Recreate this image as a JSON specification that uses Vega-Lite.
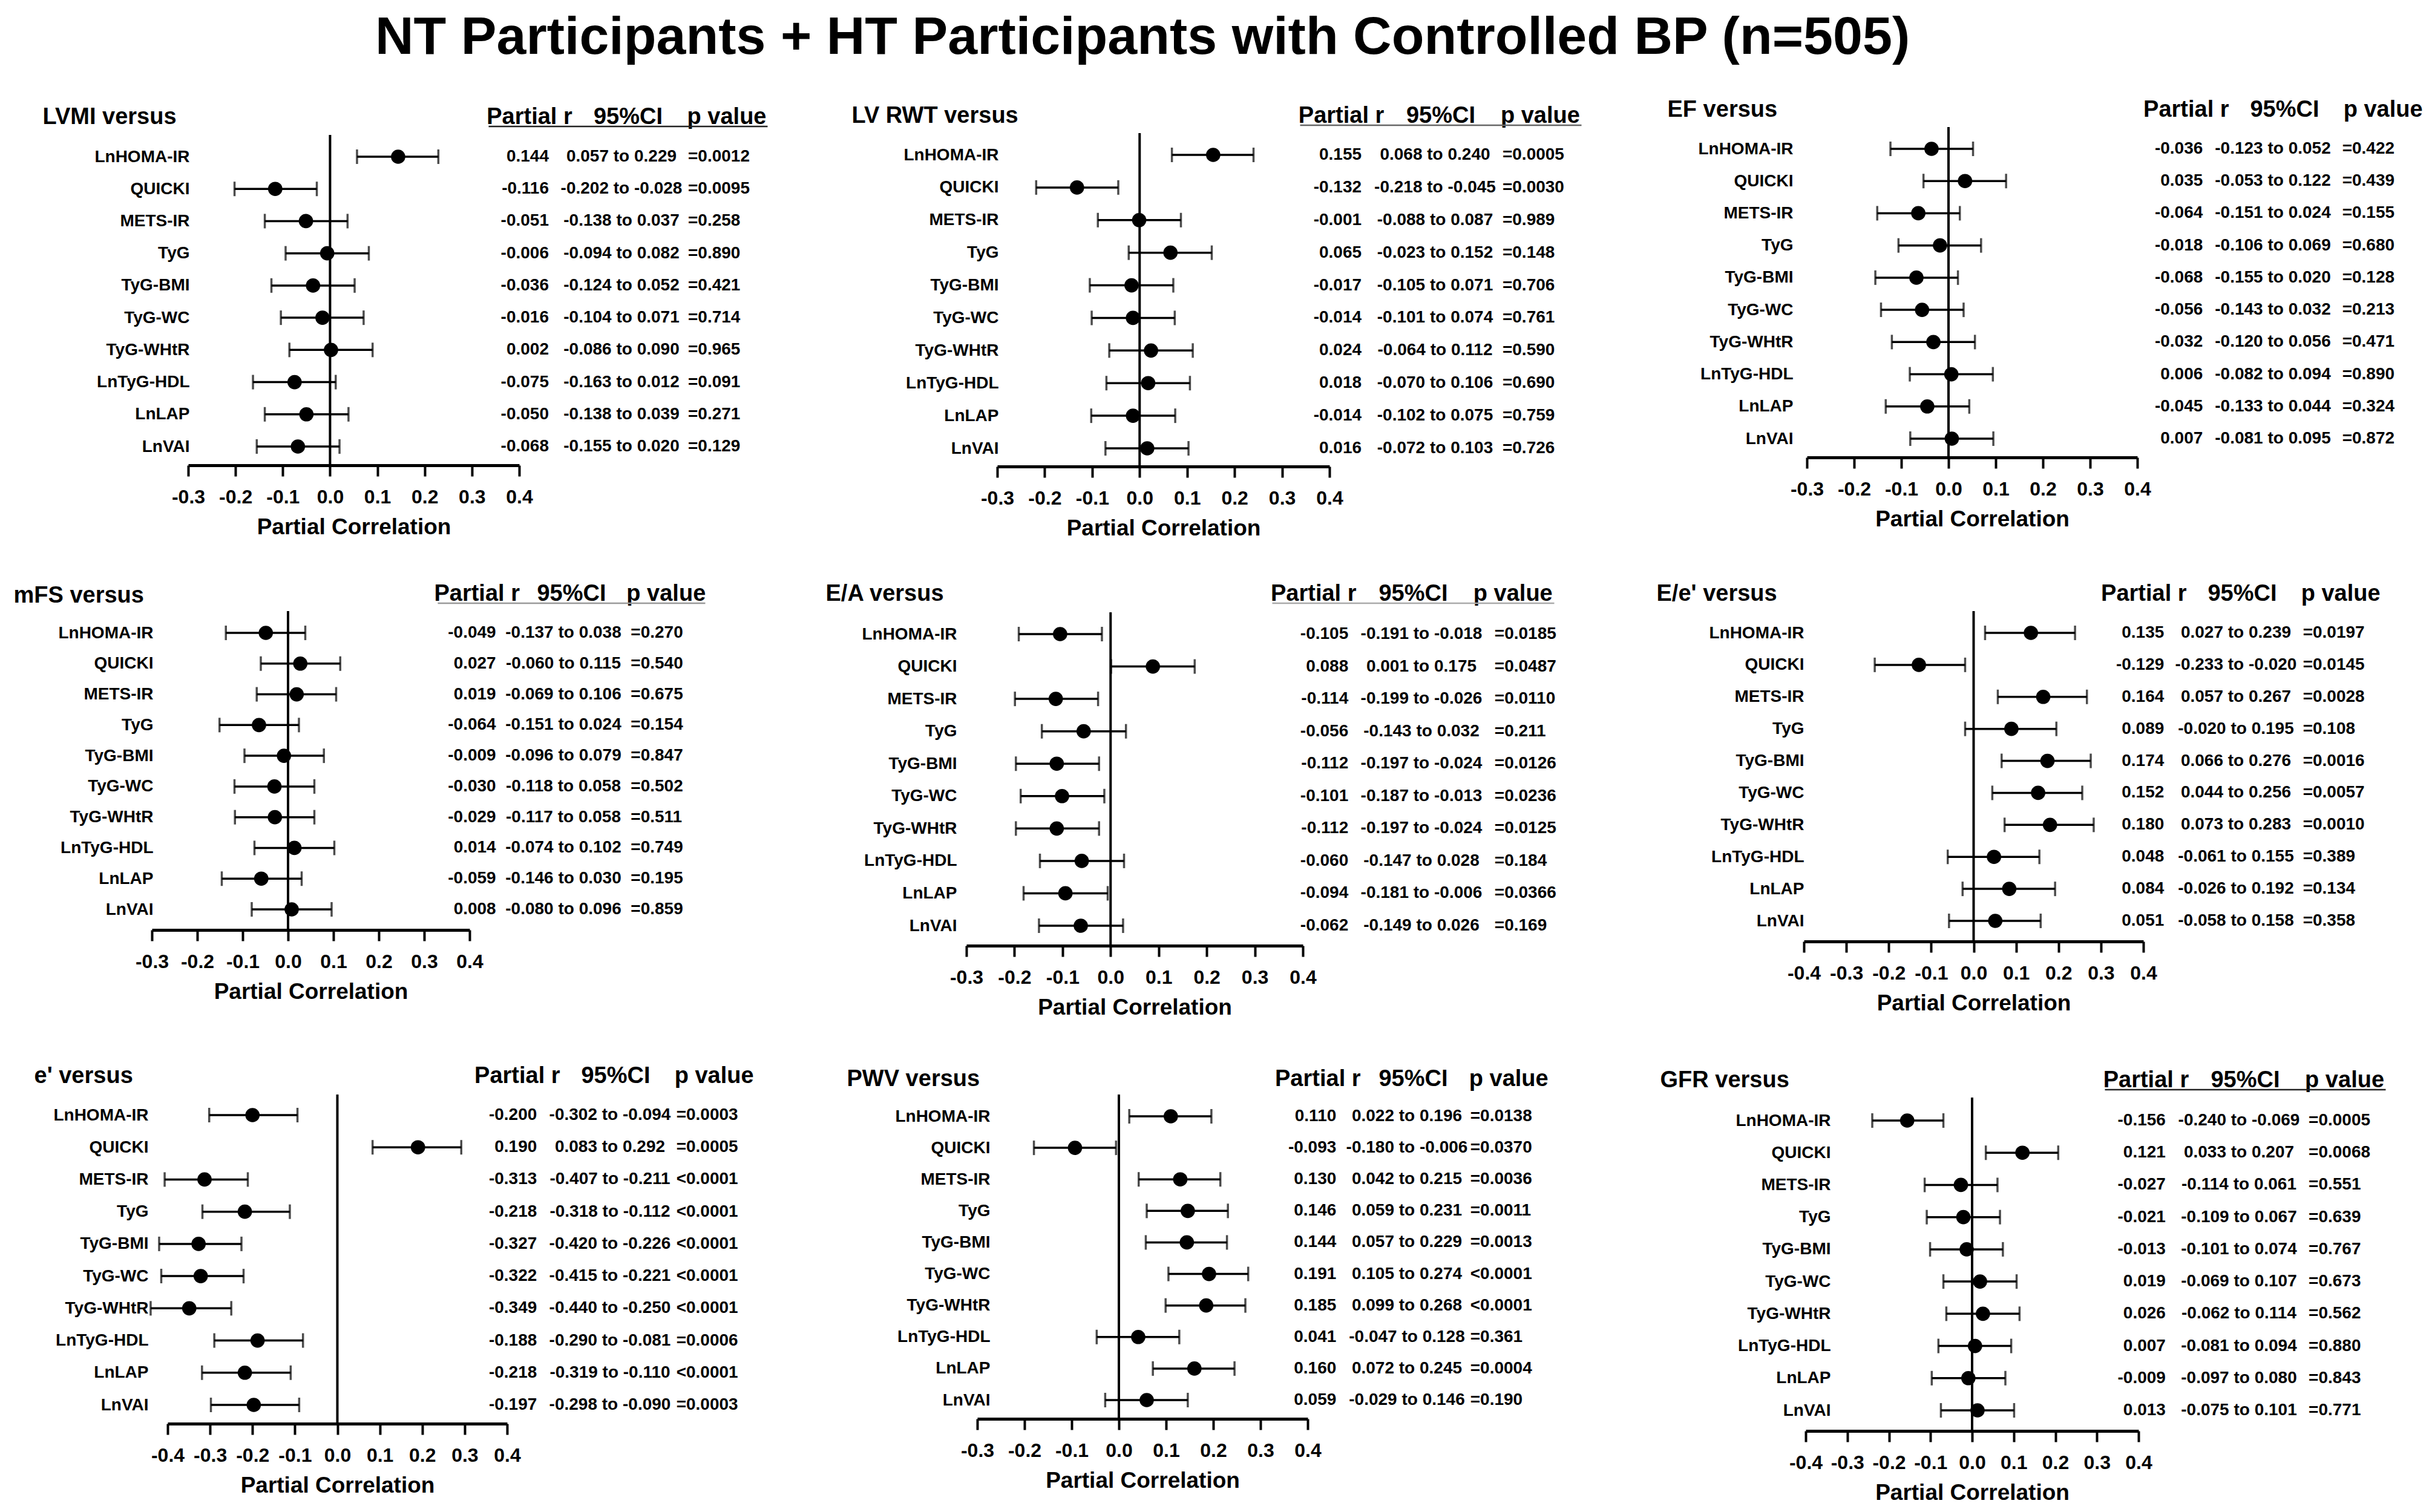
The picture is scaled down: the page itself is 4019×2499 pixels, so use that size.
{
"$schema": "https://vega.github.io/schema/vega-lite/v6.json",
"autosize": {"type": "pad"},
"padding": {"left": 22, "top": 18, "right": 0, "bottom": 0},
"background": "white",
"title": {"text": "NT Participants + HT Participants with Controlled BP (n=505)", "anchor": "start", "frame": "bounds", "dx": 598, "offset": 56, "fontSize": 88, "font": "Liberation Sans", "fontWeight": "bold", "color": "#000"},
"datasets": {"all": [
{"panel":"LVMI","label":"LnHOMA-IR","r":0.144,"lo":0.057,"hi":0.229,"rt":"0.144","ci":"0.057 to 0.229","p":"=0.0012"},
{"panel":"LVMI","label":"QUICKI","r":-0.116,"lo":-0.202,"hi":-0.028,"rt":"-0.116","ci":"-0.202 to -0.028","p":"=0.0095"},
{"panel":"LVMI","label":"METS-IR","r":-0.051,"lo":-0.138,"hi":0.037,"rt":"-0.051","ci":"-0.138 to 0.037","p":"=0.258"},
{"panel":"LVMI","label":"TyG","r":-0.006,"lo":-0.094,"hi":0.082,"rt":"-0.006","ci":"-0.094 to 0.082","p":"=0.890"},
{"panel":"LVMI","label":"TyG-BMI","r":-0.036,"lo":-0.124,"hi":0.052,"rt":"-0.036","ci":"-0.124 to 0.052","p":"=0.421"},
{"panel":"LVMI","label":"TyG-WC","r":-0.016,"lo":-0.104,"hi":0.071,"rt":"-0.016","ci":"-0.104 to 0.071","p":"=0.714"},
{"panel":"LVMI","label":"TyG-WHtR","r":0.002,"lo":-0.086,"hi":0.090,"rt":"0.002","ci":"-0.086 to 0.090","p":"=0.965"},
{"panel":"LVMI","label":"LnTyG-HDL","r":-0.075,"lo":-0.163,"hi":0.012,"rt":"-0.075","ci":"-0.163 to 0.012","p":"=0.091"},
{"panel":"LVMI","label":"LnLAP","r":-0.050,"lo":-0.138,"hi":0.039,"rt":"-0.050","ci":"-0.138 to 0.039","p":"=0.271"},
{"panel":"LVMI","label":"LnVAI","r":-0.068,"lo":-0.155,"hi":0.020,"rt":"-0.068","ci":"-0.155 to 0.020","p":"=0.129"},
{"panel":"LVRWT","label":"LnHOMA-IR","r":0.155,"lo":0.068,"hi":0.240,"rt":"0.155","ci":"0.068 to 0.240","p":"=0.0005"},
{"panel":"LVRWT","label":"QUICKI","r":-0.132,"lo":-0.218,"hi":-0.045,"rt":"-0.132","ci":"-0.218 to -0.045","p":"=0.0030"},
{"panel":"LVRWT","label":"METS-IR","r":-0.001,"lo":-0.088,"hi":0.087,"rt":"-0.001","ci":"-0.088 to 0.087","p":"=0.989"},
{"panel":"LVRWT","label":"TyG","r":0.065,"lo":-0.023,"hi":0.152,"rt":"0.065","ci":"-0.023 to 0.152","p":"=0.148"},
{"panel":"LVRWT","label":"TyG-BMI","r":-0.017,"lo":-0.105,"hi":0.071,"rt":"-0.017","ci":"-0.105 to 0.071","p":"=0.706"},
{"panel":"LVRWT","label":"TyG-WC","r":-0.014,"lo":-0.101,"hi":0.074,"rt":"-0.014","ci":"-0.101 to 0.074","p":"=0.761"},
{"panel":"LVRWT","label":"TyG-WHtR","r":0.024,"lo":-0.064,"hi":0.112,"rt":"0.024","ci":"-0.064 to 0.112","p":"=0.590"},
{"panel":"LVRWT","label":"LnTyG-HDL","r":0.018,"lo":-0.070,"hi":0.106,"rt":"0.018","ci":"-0.070 to 0.106","p":"=0.690"},
{"panel":"LVRWT","label":"LnLAP","r":-0.014,"lo":-0.102,"hi":0.075,"rt":"-0.014","ci":"-0.102 to 0.075","p":"=0.759"},
{"panel":"LVRWT","label":"LnVAI","r":0.016,"lo":-0.072,"hi":0.103,"rt":"0.016","ci":"-0.072 to 0.103","p":"=0.726"},
{"panel":"EF","label":"LnHOMA-IR","r":-0.036,"lo":-0.123,"hi":0.052,"rt":"-0.036","ci":"-0.123 to 0.052","p":"=0.422"},
{"panel":"EF","label":"QUICKI","r":0.035,"lo":-0.053,"hi":0.122,"rt":"0.035","ci":"-0.053 to 0.122","p":"=0.439"},
{"panel":"EF","label":"METS-IR","r":-0.064,"lo":-0.151,"hi":0.024,"rt":"-0.064","ci":"-0.151 to 0.024","p":"=0.155"},
{"panel":"EF","label":"TyG","r":-0.018,"lo":-0.106,"hi":0.069,"rt":"-0.018","ci":"-0.106 to 0.069","p":"=0.680"},
{"panel":"EF","label":"TyG-BMI","r":-0.068,"lo":-0.155,"hi":0.020,"rt":"-0.068","ci":"-0.155 to 0.020","p":"=0.128"},
{"panel":"EF","label":"TyG-WC","r":-0.056,"lo":-0.143,"hi":0.032,"rt":"-0.056","ci":"-0.143 to 0.032","p":"=0.213"},
{"panel":"EF","label":"TyG-WHtR","r":-0.032,"lo":-0.120,"hi":0.056,"rt":"-0.032","ci":"-0.120 to 0.056","p":"=0.471"},
{"panel":"EF","label":"LnTyG-HDL","r":0.006,"lo":-0.082,"hi":0.094,"rt":"0.006","ci":"-0.082 to 0.094","p":"=0.890"},
{"panel":"EF","label":"LnLAP","r":-0.045,"lo":-0.133,"hi":0.044,"rt":"-0.045","ci":"-0.133 to 0.044","p":"=0.324"},
{"panel":"EF","label":"LnVAI","r":0.007,"lo":-0.081,"hi":0.095,"rt":"0.007","ci":"-0.081 to 0.095","p":"=0.872"},
{"panel":"mFS","label":"LnHOMA-IR","r":-0.049,"lo":-0.137,"hi":0.038,"rt":"-0.049","ci":"-0.137 to 0.038","p":"=0.270"},
{"panel":"mFS","label":"QUICKI","r":0.027,"lo":-0.060,"hi":0.115,"rt":"0.027","ci":"-0.060 to 0.115","p":"=0.540"},
{"panel":"mFS","label":"METS-IR","r":0.019,"lo":-0.069,"hi":0.106,"rt":"0.019","ci":"-0.069 to 0.106","p":"=0.675"},
{"panel":"mFS","label":"TyG","r":-0.064,"lo":-0.151,"hi":0.024,"rt":"-0.064","ci":"-0.151 to 0.024","p":"=0.154"},
{"panel":"mFS","label":"TyG-BMI","r":-0.009,"lo":-0.096,"hi":0.079,"rt":"-0.009","ci":"-0.096 to 0.079","p":"=0.847"},
{"panel":"mFS","label":"TyG-WC","r":-0.030,"lo":-0.118,"hi":0.058,"rt":"-0.030","ci":"-0.118 to 0.058","p":"=0.502"},
{"panel":"mFS","label":"TyG-WHtR","r":-0.029,"lo":-0.117,"hi":0.058,"rt":"-0.029","ci":"-0.117 to 0.058","p":"=0.511"},
{"panel":"mFS","label":"LnTyG-HDL","r":0.014,"lo":-0.074,"hi":0.102,"rt":"0.014","ci":"-0.074 to 0.102","p":"=0.749"},
{"panel":"mFS","label":"LnLAP","r":-0.059,"lo":-0.146,"hi":0.030,"rt":"-0.059","ci":"-0.146 to 0.030","p":"=0.195"},
{"panel":"mFS","label":"LnVAI","r":0.008,"lo":-0.080,"hi":0.096,"rt":"0.008","ci":"-0.080 to 0.096","p":"=0.859"},
{"panel":"EA","label":"LnHOMA-IR","r":-0.105,"lo":-0.191,"hi":-0.018,"rt":"-0.105","ci":"-0.191 to -0.018","p":"=0.0185"},
{"panel":"EA","label":"QUICKI","r":0.088,"lo":0.001,"hi":0.175,"rt":"0.088","ci":"0.001 to 0.175","p":"=0.0487"},
{"panel":"EA","label":"METS-IR","r":-0.114,"lo":-0.199,"hi":-0.026,"rt":"-0.114","ci":"-0.199 to -0.026","p":"=0.0110"},
{"panel":"EA","label":"TyG","r":-0.056,"lo":-0.143,"hi":0.032,"rt":"-0.056","ci":"-0.143 to 0.032","p":"=0.211"},
{"panel":"EA","label":"TyG-BMI","r":-0.112,"lo":-0.197,"hi":-0.024,"rt":"-0.112","ci":"-0.197 to -0.024","p":"=0.0126"},
{"panel":"EA","label":"TyG-WC","r":-0.101,"lo":-0.187,"hi":-0.013,"rt":"-0.101","ci":"-0.187 to -0.013","p":"=0.0236"},
{"panel":"EA","label":"TyG-WHtR","r":-0.112,"lo":-0.197,"hi":-0.024,"rt":"-0.112","ci":"-0.197 to -0.024","p":"=0.0125"},
{"panel":"EA","label":"LnTyG-HDL","r":-0.060,"lo":-0.147,"hi":0.028,"rt":"-0.060","ci":"-0.147 to 0.028","p":"=0.184"},
{"panel":"EA","label":"LnLAP","r":-0.094,"lo":-0.181,"hi":-0.006,"rt":"-0.094","ci":"-0.181 to -0.006","p":"=0.0366"},
{"panel":"EA","label":"LnVAI","r":-0.062,"lo":-0.149,"hi":0.026,"rt":"-0.062","ci":"-0.149 to 0.026","p":"=0.169"},
{"panel":"Ee","label":"LnHOMA-IR","r":0.135,"lo":0.027,"hi":0.239,"rt":"0.135","ci":"0.027 to 0.239","p":"=0.0197"},
{"panel":"Ee","label":"QUICKI","r":-0.129,"lo":-0.233,"hi":-0.020,"rt":"-0.129","ci":"-0.233 to -0.020","p":"=0.0145"},
{"panel":"Ee","label":"METS-IR","r":0.164,"lo":0.057,"hi":0.267,"rt":"0.164","ci":"0.057 to 0.267","p":"=0.0028"},
{"panel":"Ee","label":"TyG","r":0.089,"lo":-0.020,"hi":0.195,"rt":"0.089","ci":"-0.020 to 0.195","p":"=0.108"},
{"panel":"Ee","label":"TyG-BMI","r":0.174,"lo":0.066,"hi":0.276,"rt":"0.174","ci":"0.066 to 0.276","p":"=0.0016"},
{"panel":"Ee","label":"TyG-WC","r":0.152,"lo":0.044,"hi":0.256,"rt":"0.152","ci":"0.044 to 0.256","p":"=0.0057"},
{"panel":"Ee","label":"TyG-WHtR","r":0.180,"lo":0.073,"hi":0.283,"rt":"0.180","ci":"0.073 to 0.283","p":"=0.0010"},
{"panel":"Ee","label":"LnTyG-HDL","r":0.048,"lo":-0.061,"hi":0.155,"rt":"0.048","ci":"-0.061 to 0.155","p":"=0.389"},
{"panel":"Ee","label":"LnLAP","r":0.084,"lo":-0.026,"hi":0.192,"rt":"0.084","ci":"-0.026 to 0.192","p":"=0.134"},
{"panel":"Ee","label":"LnVAI","r":0.051,"lo":-0.058,"hi":0.158,"rt":"0.051","ci":"-0.058 to 0.158","p":"=0.358"},
{"panel":"e","label":"LnHOMA-IR","r":-0.200,"lo":-0.302,"hi":-0.094,"rt":"-0.200","ci":"-0.302 to -0.094","p":"=0.0003"},
{"panel":"e","label":"QUICKI","r":0.190,"lo":0.083,"hi":0.292,"rt":"0.190","ci":"0.083 to 0.292","p":"=0.0005"},
{"panel":"e","label":"METS-IR","r":-0.313,"lo":-0.407,"hi":-0.211,"rt":"-0.313","ci":"-0.407 to -0.211","p":"<0.0001"},
{"panel":"e","label":"TyG","r":-0.218,"lo":-0.318,"hi":-0.112,"rt":"-0.218","ci":"-0.318 to -0.112","p":"<0.0001"},
{"panel":"e","label":"TyG-BMI","r":-0.327,"lo":-0.420,"hi":-0.226,"rt":"-0.327","ci":"-0.420 to -0.226","p":"<0.0001"},
{"panel":"e","label":"TyG-WC","r":-0.322,"lo":-0.415,"hi":-0.221,"rt":"-0.322","ci":"-0.415 to -0.221","p":"<0.0001"},
{"panel":"e","label":"TyG-WHtR","r":-0.349,"lo":-0.440,"hi":-0.250,"rt":"-0.349","ci":"-0.440 to -0.250","p":"<0.0001"},
{"panel":"e","label":"LnTyG-HDL","r":-0.188,"lo":-0.290,"hi":-0.081,"rt":"-0.188","ci":"-0.290 to -0.081","p":"=0.0006"},
{"panel":"e","label":"LnLAP","r":-0.218,"lo":-0.319,"hi":-0.110,"rt":"-0.218","ci":"-0.319 to -0.110","p":"<0.0001"},
{"panel":"e","label":"LnVAI","r":-0.197,"lo":-0.298,"hi":-0.090,"rt":"-0.197","ci":"-0.298 to -0.090","p":"=0.0003"},
{"panel":"PWV","label":"LnHOMA-IR","r":0.110,"lo":0.022,"hi":0.196,"rt":"0.110","ci":"0.022 to 0.196","p":"=0.0138"},
{"panel":"PWV","label":"QUICKI","r":-0.093,"lo":-0.180,"hi":-0.006,"rt":"-0.093","ci":"-0.180 to -0.006","p":"=0.0370"},
{"panel":"PWV","label":"METS-IR","r":0.130,"lo":0.042,"hi":0.215,"rt":"0.130","ci":"0.042 to 0.215","p":"=0.0036"},
{"panel":"PWV","label":"TyG","r":0.146,"lo":0.059,"hi":0.231,"rt":"0.146","ci":"0.059 to 0.231","p":"=0.0011"},
{"panel":"PWV","label":"TyG-BMI","r":0.144,"lo":0.057,"hi":0.229,"rt":"0.144","ci":"0.057 to 0.229","p":"=0.0013"},
{"panel":"PWV","label":"TyG-WC","r":0.191,"lo":0.105,"hi":0.274,"rt":"0.191","ci":"0.105 to 0.274","p":"<0.0001"},
{"panel":"PWV","label":"TyG-WHtR","r":0.185,"lo":0.099,"hi":0.268,"rt":"0.185","ci":"0.099 to 0.268","p":"<0.0001"},
{"panel":"PWV","label":"LnTyG-HDL","r":0.041,"lo":-0.047,"hi":0.128,"rt":"0.041","ci":"-0.047 to 0.128","p":"=0.361"},
{"panel":"PWV","label":"LnLAP","r":0.160,"lo":0.072,"hi":0.245,"rt":"0.160","ci":"0.072 to 0.245","p":"=0.0004"},
{"panel":"PWV","label":"LnVAI","r":0.059,"lo":-0.029,"hi":0.146,"rt":"0.059","ci":"-0.029 to 0.146","p":"=0.190"},
{"panel":"GFR","label":"LnHOMA-IR","r":-0.156,"lo":-0.240,"hi":-0.069,"rt":"-0.156","ci":"-0.240 to -0.069","p":"=0.0005"},
{"panel":"GFR","label":"QUICKI","r":0.121,"lo":0.033,"hi":0.207,"rt":"0.121","ci":"0.033 to 0.207","p":"=0.0068"},
{"panel":"GFR","label":"METS-IR","r":-0.027,"lo":-0.114,"hi":0.061,"rt":"-0.027","ci":"-0.114 to 0.061","p":"=0.551"},
{"panel":"GFR","label":"TyG","r":-0.021,"lo":-0.109,"hi":0.067,"rt":"-0.021","ci":"-0.109 to 0.067","p":"=0.639"},
{"panel":"GFR","label":"TyG-BMI","r":-0.013,"lo":-0.101,"hi":0.074,"rt":"-0.013","ci":"-0.101 to 0.074","p":"=0.767"},
{"panel":"GFR","label":"TyG-WC","r":0.019,"lo":-0.069,"hi":0.107,"rt":"0.019","ci":"-0.069 to 0.107","p":"=0.673"},
{"panel":"GFR","label":"TyG-WHtR","r":0.026,"lo":-0.062,"hi":0.114,"rt":"0.026","ci":"-0.062 to 0.114","p":"=0.562"},
{"panel":"GFR","label":"LnTyG-HDL","r":0.007,"lo":-0.081,"hi":0.094,"rt":"0.007","ci":"-0.081 to 0.094","p":"=0.880"},
{"panel":"GFR","label":"LnLAP","r":-0.009,"lo":-0.097,"hi":0.080,"rt":"-0.009","ci":"-0.097 to 0.080","p":"=0.843"},
{"panel":"GFR","label":"LnVAI","r":0.013,"lo":-0.075,"hi":0.101,"rt":"0.013","ci":"-0.075 to 0.101","p":"=0.771"}
]},
"columns": 3,
"bounds": "flush",
"spacing": {"row": 239, "column": 40},
"resolve": {"scale": {"x": "independent", "y": "independent"}},
"concat": [
{"width": 1306, "height": 559, "data": {"name": "all"}, "transform": [{"filter": {"field": "panel", "equal": "LVMI"}}],
 "encoding": {"y": {"field": "label", "type": "nominal", "sort": null, "scale": {"type": "point", "domain": ["LnHOMA-IR","QUICKI","METS-IR","TyG","TyG-BMI","TyG-WC","TyG-WHtR","LnTyG-HDL","LnLAP","LnVAI"], "range": [49, 528], "padding": 0}, "axis": {"title": "LVMI versus", "labelPadding": -2, "offset": -60, "titleX": -241, "titleY": -5.4}}},
 "layer": [
  {"layer": [
   {"transform": [{"aggregate": [{"op": "count", "as": "n"}]}], "mark": {"type": "rule", "color": "#000", "strokeWidth": 4, "yOffset": -36, "y2Offset": 31}, "encoding": {"x": {"datum": 0, "type": "quantitative"}, "y": {"datum": "LnHOMA-IR", "type": "nominal"}, "y2": {"datum": "LnVAI"}}},
   {"mark": {"type": "rule", "color": "#000", "strokeWidth": 3.5}, "encoding": {"x": {"field": "lo", "type": "quantitative", "scale": {"domain": [-0.3, 0.4], "range": [60, 607], "nice": false, "zero": false}, "axis": {"orient": "bottom", "values": [-0.3, -0.2, -0.1, 0, 0.1, 0.2, 0.3, 0.4], "format": ".1f", "labelExpr": "replace(datum.label, '\u2212', '-')", "title": "Partial Correlation", "titleY": 113}}, "x2": {"field": "hi"}}},
   {"mark": {"type": "tick", "color": "#000", "size": 24, "thickness": 3.5}, "encoding": {"x": {"field": "lo", "type": "quantitative", "scale": {"domain": [-0.3, 0.4], "range": [60, 607], "nice": false, "zero": false}, "axis": {"orient": "bottom", "values": [-0.3, -0.2, -0.1, 0, 0.1, 0.2, 0.3, 0.4], "format": ".1f", "labelExpr": "replace(datum.label, '\u2212', '-')", "title": "Partial Correlation", "titleY": 113}}}},
   {"mark": {"type": "tick", "color": "#000", "size": 24, "thickness": 3.5}, "encoding": {"x": {"field": "hi", "type": "quantitative", "scale": {"domain": [-0.3, 0.4], "range": [60, 607], "nice": false, "zero": false}, "axis": {"orient": "bottom", "values": [-0.3, -0.2, -0.1, 0, 0.1, 0.2, 0.3, 0.4], "format": ".1f", "labelExpr": "replace(datum.label, '\u2212', '-')", "title": "Partial Correlation", "titleY": 113}}}},
   {"mark": {"type": "point", "filled": true, "color": "#000", "opacity": 1, "size": 560}, "encoding": {"x": {"field": "r", "type": "quantitative", "scale": {"domain": [-0.3, 0.4], "range": [60, 607], "nice": false, "zero": false}, "axis": {"orient": "bottom", "values": [-0.3, -0.2, -0.1, 0, 0.1, 0.2, 0.3, 0.4], "format": ".1f", "labelExpr": "replace(datum.label, '\u2212', '-')", "title": "Partial Correlation", "titleY": 113}}}}
  ]},
  {"layer": [
   {"mark": {"type": "text", "align": "right", "dx": 32.5}, "encoding": {"text": {"field": "rt"}, "x": {"datum": "Partial r", "type": "nominal", "scale": {"type": "point", "domain": ["Partial r", "95%CI", "p value"], "range": [556, 1017], "padding": 0.414}, "axis": {"orient": "top", "title": null, "offset": 1.4, "domain": true, "domainColor": "#222"}}}},
   {"mark": {"type": "text", "align": "center", "dx": -10.5}, "encoding": {"text": {"field": "ci"}, "x": {"datum": "95%CI", "type": "nominal", "scale": {"type": "point", "domain": ["Partial r", "95%CI", "p value"], "range": [556, 1017], "padding": 0.414}, "axis": {"orient": "top", "title": null, "offset": 1.4, "domain": true, "domainColor": "#222"}}}},
   {"mark": {"type": "text", "align": "left", "dx": -63.5}, "encoding": {"text": {"field": "p"}, "x": {"datum": "p value", "type": "nominal", "scale": {"type": "point", "domain": ["Partial r", "95%CI", "p value"], "range": [556, 1017], "padding": 0.414}, "axis": {"orient": "top", "title": null, "offset": 1.4, "domain": true, "domainColor": "#222"}}}}
  ]}
 ],
 "resolve": {"scale": {"x": "independent"}}},

{"width": 1344, "height": 561, "data": {"name": "all"}, "transform": [{"filter": {"field": "panel", "equal": "LVRWT"}}],
 "encoding": {"y": {"field": "label", "type": "nominal", "sort": null, "scale": {"type": "point", "domain": ["LnHOMA-IR","QUICKI","METS-IR","TyG","TyG-BMI","TyG-WC","TyG-WHtR","LnTyG-HDL","LnLAP","LnVAI"], "range": [46, 531], "padding": 0}, "axis": {"title": "LV RWT versus", "labelPadding": -2, "offset": -51, "titleX": -241, "titleY": -7.4}}},
 "layer": [
  {"layer": [
   {"transform": [{"aggregate": [{"op": "count", "as": "n"}]}], "mark": {"type": "rule", "color": "#000", "strokeWidth": 4, "yOffset": -36, "y2Offset": 30}, "encoding": {"x": {"datum": 0, "type": "quantitative"}, "y": {"datum": "LnHOMA-IR", "type": "nominal"}, "y2": {"datum": "LnVAI"}}},
   {"mark": {"type": "rule", "color": "#000", "strokeWidth": 3.5}, "encoding": {"x": {"field": "lo", "type": "quantitative", "scale": {"domain": [-0.3, 0.4], "range": [51, 600], "nice": false, "zero": false}, "axis": {"orient": "bottom", "values": [-0.3, -0.2, -0.1, 0, 0.1, 0.2, 0.3, 0.4], "format": ".1f", "labelExpr": "replace(datum.label, '\u2212', '-')", "title": "Partial Correlation", "titleY": 113}}, "x2": {"field": "hi"}}},
   {"mark": {"type": "tick", "color": "#000", "size": 24, "thickness": 3.5}, "encoding": {"x": {"field": "lo", "type": "quantitative", "scale": {"domain": [-0.3, 0.4], "range": [51, 600], "nice": false, "zero": false}, "axis": {"orient": "bottom", "values": [-0.3, -0.2, -0.1, 0, 0.1, 0.2, 0.3, 0.4], "format": ".1f", "labelExpr": "replace(datum.label, '\u2212', '-')", "title": "Partial Correlation", "titleY": 113}}}},
   {"mark": {"type": "tick", "color": "#000", "size": 24, "thickness": 3.5}, "encoding": {"x": {"field": "hi", "type": "quantitative", "scale": {"domain": [-0.3, 0.4], "range": [51, 600], "nice": false, "zero": false}, "axis": {"orient": "bottom", "values": [-0.3, -0.2, -0.1, 0, 0.1, 0.2, 0.3, 0.4], "format": ".1f", "labelExpr": "replace(datum.label, '\u2212', '-')", "title": "Partial Correlation", "titleY": 113}}}},
   {"mark": {"type": "point", "filled": true, "color": "#000", "opacity": 1, "size": 560}, "encoding": {"x": {"field": "r", "type": "quantitative", "scale": {"domain": [-0.3, 0.4], "range": [51, 600], "nice": false, "zero": false}, "axis": {"orient": "bottom", "values": [-0.3, -0.2, -0.1, 0, 0.1, 0.2, 0.3, 0.4], "format": ".1f", "labelExpr": "replace(datum.label, '\u2212', '-')", "title": "Partial Correlation", "titleY": 113}}}}
  ]},
  {"layer": [
   {"mark": {"type": "text", "align": "right", "dx": 34}, "encoding": {"text": {"field": "rt"}, "x": {"datum": "Partial r", "type": "nominal", "scale": {"type": "point", "domain": ["Partial r", "95%CI", "p value"], "range": [551, 1016], "padding": 0.414}, "axis": {"orient": "top", "title": null, "offset": 3.4, "domain": true, "domainColor": "#666"}}}},
   {"mark": {"type": "text", "align": "center", "dx": -9}, "encoding": {"text": {"field": "ci"}, "x": {"datum": "95%CI", "type": "nominal", "scale": {"type": "point", "domain": ["Partial r", "95%CI", "p value"], "range": [551, 1016], "padding": 0.414}, "axis": {"orient": "top", "title": null, "offset": 3.4, "domain": true, "domainColor": "#666"}}}},
   {"mark": {"type": "text", "align": "left", "dx": -62}, "encoding": {"text": {"field": "p"}, "x": {"datum": "p value", "type": "nominal", "scale": {"type": "point", "domain": ["Partial r", "95%CI", "p value"], "range": [551, 1016], "padding": 0.414}, "axis": {"orient": "top", "title": null, "offset": 3.4, "domain": true, "domainColor": "#666"}}}}
  ]}
 ],
 "resolve": {"scale": {"x": "independent"}}},

{"width": 1030, "height": 546, "data": {"name": "all"}, "transform": [{"filter": {"field": "panel", "equal": "EF"}}],
 "encoding": {"y": {"field": "label", "type": "nominal", "sort": null, "scale": {"type": "point", "domain": ["LnHOMA-IR","QUICKI","METS-IR","TyG","TyG-BMI","TyG-WC","TyG-WHtR","LnTyG-HDL","LnLAP","LnVAI"], "range": [36, 515], "padding": 0}, "axis": {"title": "EF versus", "labelPadding": 23, "offset": -5, "titleX": -231, "titleY": -17.4}}},
 "layer": [
  {"layer": [
   {"transform": [{"aggregate": [{"op": "count", "as": "n"}]}], "mark": {"type": "rule", "color": "#000", "strokeWidth": 4, "yOffset": -36, "y2Offset": 31}, "encoding": {"x": {"datum": 0, "type": "quantitative"}, "y": {"datum": "LnHOMA-IR", "type": "nominal"}, "y2": {"datum": "LnVAI"}}},
   {"mark": {"type": "rule", "color": "#000", "strokeWidth": 3.5}, "encoding": {"x": {"field": "lo", "type": "quantitative", "scale": {"domain": [-0.3, 0.4], "range": [5, 551], "nice": false, "zero": false}, "axis": {"orient": "bottom", "values": [-0.3, -0.2, -0.1, 0, 0.1, 0.2, 0.3, 0.4], "format": ".1f", "labelExpr": "replace(datum.label, '\u2212', '-')", "title": "Partial Correlation", "titleY": 113}}, "x2": {"field": "hi"}}},
   {"mark": {"type": "tick", "color": "#000", "size": 24, "thickness": 3.5}, "encoding": {"x": {"field": "lo", "type": "quantitative", "scale": {"domain": [-0.3, 0.4], "range": [5, 551], "nice": false, "zero": false}, "axis": {"orient": "bottom", "values": [-0.3, -0.2, -0.1, 0, 0.1, 0.2, 0.3, 0.4], "format": ".1f", "labelExpr": "replace(datum.label, '\u2212', '-')", "title": "Partial Correlation", "titleY": 113}}}},
   {"mark": {"type": "tick", "color": "#000", "size": 24, "thickness": 3.5}, "encoding": {"x": {"field": "hi", "type": "quantitative", "scale": {"domain": [-0.3, 0.4], "range": [5, 551], "nice": false, "zero": false}, "axis": {"orient": "bottom", "values": [-0.3, -0.2, -0.1, 0, 0.1, 0.2, 0.3, 0.4], "format": ".1f", "labelExpr": "replace(datum.label, '\u2212', '-')", "title": "Partial Correlation", "titleY": 113}}}},
   {"mark": {"type": "point", "filled": true, "color": "#000", "opacity": 1, "size": 560}, "encoding": {"x": {"field": "r", "type": "quantitative", "scale": {"domain": [-0.3, 0.4], "range": [5, 551], "nice": false, "zero": false}, "axis": {"orient": "bottom", "values": [-0.3, -0.2, -0.1, 0, 0.1, 0.2, 0.3, 0.4], "format": ".1f", "labelExpr": "replace(datum.label, '\u2212', '-')", "title": "Partial Correlation", "titleY": 113}}}}
  ]},
  {"layer": [
   {"mark": {"type": "text", "align": "right", "dx": 28}, "encoding": {"text": {"field": "rt"}, "x": {"datum": "Partial r", "type": "nominal", "scale": {"type": "point", "domain": ["Partial r", "95%CI", "p value"], "range": [564, 1024], "padding": 0.414}, "axis": {"orient": "top", "title": null, "offset": 13.4, "domain": false}}}},
   {"mark": {"type": "text", "align": "center", "dx": -19}, "encoding": {"text": {"field": "ci"}, "x": {"datum": "95%CI", "type": "nominal", "scale": {"type": "point", "domain": ["Partial r", "95%CI", "p value"], "range": [564, 1024], "padding": 0.414}, "axis": {"orient": "top", "title": null, "offset": 13.4, "domain": false}}}},
   {"mark": {"type": "text", "align": "left", "dx": -67}, "encoding": {"text": {"field": "p"}, "x": {"datum": "p value", "type": "nominal", "scale": {"type": "point", "domain": ["Partial r", "95%CI", "p value"], "range": [564, 1024], "padding": 0.414}, "axis": {"orient": "top", "title": null, "offset": 13.4, "domain": false}}}}
  ]}
 ],
 "resolve": {"scale": {"x": "independent"}}},

{"width": 1306, "height": 527, "data": {"name": "all"}, "transform": [{"filter": {"field": "panel", "equal": "mFS"}}],
 "encoding": {"y": {"field": "label", "type": "nominal", "sort": null, "scale": {"type": "point", "domain": ["LnHOMA-IR","QUICKI","METS-IR","TyG","TyG-BMI","TyG-WC","TyG-WHtR","LnTyG-HDL","LnLAP","LnVAI"], "range": [36, 493], "padding": 0}, "axis": {"title": "mFS versus", "labelPadding": -2, "offset": 0, "titleX": -229, "titleY": -14.4}}},
 "layer": [
  {"layer": [
   {"transform": [{"aggregate": [{"op": "count", "as": "n"}]}], "mark": {"type": "rule", "color": "#000", "strokeWidth": 4, "yOffset": -36, "y2Offset": 34}, "encoding": {"x": {"datum": 0, "type": "quantitative"}, "y": {"datum": "LnHOMA-IR", "type": "nominal"}, "y2": {"datum": "LnVAI"}}},
   {"mark": {"type": "rule", "color": "#000", "strokeWidth": 3.5}, "encoding": {"x": {"field": "lo", "type": "quantitative", "scale": {"domain": [-0.3, 0.4], "range": [0, 525], "nice": false, "zero": false}, "axis": {"orient": "bottom", "values": [-0.3, -0.2, -0.1, 0, 0.1, 0.2, 0.3, 0.4], "format": ".1f", "labelExpr": "replace(datum.label, '\u2212', '-')", "title": "Partial Correlation", "titleY": 113}}, "x2": {"field": "hi"}}},
   {"mark": {"type": "tick", "color": "#000", "size": 24, "thickness": 3.5}, "encoding": {"x": {"field": "lo", "type": "quantitative", "scale": {"domain": [-0.3, 0.4], "range": [0, 525], "nice": false, "zero": false}, "axis": {"orient": "bottom", "values": [-0.3, -0.2, -0.1, 0, 0.1, 0.2, 0.3, 0.4], "format": ".1f", "labelExpr": "replace(datum.label, '\u2212', '-')", "title": "Partial Correlation", "titleY": 113}}}},
   {"mark": {"type": "tick", "color": "#000", "size": 24, "thickness": 3.5}, "encoding": {"x": {"field": "hi", "type": "quantitative", "scale": {"domain": [-0.3, 0.4], "range": [0, 525], "nice": false, "zero": false}, "axis": {"orient": "bottom", "values": [-0.3, -0.2, -0.1, 0, 0.1, 0.2, 0.3, 0.4], "format": ".1f", "labelExpr": "replace(datum.label, '\u2212', '-')", "title": "Partial Correlation", "titleY": 113}}}},
   {"mark": {"type": "point", "filled": true, "color": "#000", "opacity": 1, "size": 560}, "encoding": {"x": {"field": "r", "type": "quantitative", "scale": {"domain": [-0.3, 0.4], "range": [0, 525], "nice": false, "zero": false}, "axis": {"orient": "bottom", "values": [-0.3, -0.2, -0.1, 0, 0.1, 0.2, 0.3, 0.4], "format": ".1f", "labelExpr": "replace(datum.label, '\u2212', '-')", "title": "Partial Correlation", "titleY": 113}}}}
  ]},
  {"layer": [
   {"mark": {"type": "text", "align": "right", "dx": 32}, "encoding": {"text": {"field": "rt"}, "x": {"datum": "Partial r", "type": "nominal", "scale": {"type": "point", "domain": ["Partial r", "95%CI", "p value"], "range": [472, 914], "padding": 0.414}, "axis": {"orient": "top", "title": null, "offset": 13.4, "domain": true, "domainColor": "#999"}}}},
   {"mark": {"type": "text", "align": "center", "dx": -13}, "encoding": {"text": {"field": "ci"}, "x": {"datum": "95%CI", "type": "nominal", "scale": {"type": "point", "domain": ["Partial r", "95%CI", "p value"], "range": [472, 914], "padding": 0.414}, "axis": {"orient": "top", "title": null, "offset": 13.4, "domain": true, "domainColor": "#999"}}}},
   {"mark": {"type": "text", "align": "left", "dx": -58}, "encoding": {"text": {"field": "p"}, "x": {"datum": "p value", "type": "nominal", "scale": {"type": "point", "domain": ["Partial r", "95%CI", "p value"], "range": [472, 914], "padding": 0.414}, "axis": {"orient": "top", "title": null, "offset": 13.4, "domain": true, "domainColor": "#999"}}}}
  ]}
 ],
 "resolve": {"scale": {"x": "independent"}}},

{"width": 1344, "height": 553, "data": {"name": "all"}, "transform": [{"filter": {"field": "panel", "equal": "EA"}}],
 "encoding": {"y": {"field": "label", "type": "nominal", "sort": null, "scale": {"type": "point", "domain": ["LnHOMA-IR","QUICKI","METS-IR","TyG","TyG-BMI","TyG-WC","TyG-WHtR","LnTyG-HDL","LnLAP","LnVAI"], "range": [38, 520], "padding": 0}, "axis": {"title": "E/A versus", "labelPadding": 16, "offset": 0, "titleX": -233, "titleY": -17.4}}},
 "layer": [
  {"layer": [
   {"transform": [{"aggregate": [{"op": "count", "as": "n"}]}], "mark": {"type": "rule", "color": "#000", "strokeWidth": 4, "yOffset": -36, "y2Offset": 33}, "encoding": {"x": {"datum": 0, "type": "quantitative"}, "y": {"datum": "LnHOMA-IR", "type": "nominal"}, "y2": {"datum": "LnVAI"}}},
   {"mark": {"type": "rule", "color": "#000", "strokeWidth": 3.5}, "encoding": {"x": {"field": "lo", "type": "quantitative", "scale": {"domain": [-0.3, 0.4], "range": [0, 556], "nice": false, "zero": false}, "axis": {"orient": "bottom", "values": [-0.3, -0.2, -0.1, 0, 0.1, 0.2, 0.3, 0.4], "format": ".1f", "labelExpr": "replace(datum.label, '\u2212', '-')", "title": "Partial Correlation", "titleY": 113}}, "x2": {"field": "hi"}}},
   {"mark": {"type": "tick", "color": "#000", "size": 24, "thickness": 3.5}, "encoding": {"x": {"field": "lo", "type": "quantitative", "scale": {"domain": [-0.3, 0.4], "range": [0, 556], "nice": false, "zero": false}, "axis": {"orient": "bottom", "values": [-0.3, -0.2, -0.1, 0, 0.1, 0.2, 0.3, 0.4], "format": ".1f", "labelExpr": "replace(datum.label, '\u2212', '-')", "title": "Partial Correlation", "titleY": 113}}}},
   {"mark": {"type": "tick", "color": "#000", "size": 24, "thickness": 3.5}, "encoding": {"x": {"field": "hi", "type": "quantitative", "scale": {"domain": [-0.3, 0.4], "range": [0, 556], "nice": false, "zero": false}, "axis": {"orient": "bottom", "values": [-0.3, -0.2, -0.1, 0, 0.1, 0.2, 0.3, 0.4], "format": ".1f", "labelExpr": "replace(datum.label, '\u2212', '-')", "title": "Partial Correlation", "titleY": 113}}}},
   {"mark": {"type": "point", "filled": true, "color": "#000", "opacity": 1, "size": 560}, "encoding": {"x": {"field": "r", "type": "quantitative", "scale": {"domain": [-0.3, 0.4], "range": [0, 556], "nice": false, "zero": false}, "axis": {"orient": "bottom", "values": [-0.3, -0.2, -0.1, 0, 0.1, 0.2, 0.3, 0.4], "format": ".1f", "labelExpr": "replace(datum.label, '\u2212', '-')", "title": "Partial Correlation", "titleY": 113}}}}
  ]},
  {"layer": [
   {"mark": {"type": "text", "align": "right", "dx": 58}, "encoding": {"text": {"field": "rt"}, "x": {"datum": "Partial r", "type": "nominal", "scale": {"type": "point", "domain": ["Partial r", "95%CI", "p value"], "range": [505, 971], "padding": 0.414}, "axis": {"orient": "top", "title": null, "offset": 13.4, "domain": true, "domainColor": "#aaa"}}}},
   {"mark": {"type": "text", "align": "center", "dx": 14}, "encoding": {"text": {"field": "ci"}, "x": {"datum": "95%CI", "type": "nominal", "scale": {"type": "point", "domain": ["Partial r", "95%CI", "p value"], "range": [505, 971], "padding": 0.414}, "axis": {"orient": "top", "title": null, "offset": 13.4, "domain": true, "domainColor": "#aaa"}}}},
   {"mark": {"type": "text", "align": "left", "dx": -30}, "encoding": {"text": {"field": "p"}, "x": {"datum": "p value", "type": "nominal", "scale": {"type": "point", "domain": ["Partial r", "95%CI", "p value"], "range": [505, 971], "padding": 0.414}, "axis": {"orient": "top", "title": null, "offset": 13.4, "domain": true, "domainColor": "#aaa"}}}}
  ]}
 ],
 "resolve": {"scale": {"x": "independent"}}},

{"width": 1030, "height": 546, "data": {"name": "all"}, "transform": [{"filter": {"field": "panel", "equal": "Ee"}}],
 "encoding": {"y": {"field": "label", "type": "nominal", "sort": null, "scale": {"type": "point", "domain": ["LnHOMA-IR","QUICKI","METS-IR","TyG","TyG-BMI","TyG-WC","TyG-WHtR","LnTyG-HDL","LnLAP","LnVAI"], "range": [36, 512], "padding": 0}, "axis": {"title": "E/e' versus", "labelPadding": 0, "offset": 0, "titleX": -244, "titleY": -17.4}}},
 "layer": [
  {"layer": [
   {"transform": [{"aggregate": [{"op": "count", "as": "n"}]}], "mark": {"type": "rule", "color": "#000", "strokeWidth": 4, "yOffset": -36, "y2Offset": 34}, "encoding": {"x": {"datum": 0, "type": "quantitative"}, "y": {"datum": "LnHOMA-IR", "type": "nominal"}, "y2": {"datum": "LnVAI"}}},
   {"mark": {"type": "rule", "color": "#000", "strokeWidth": 3.5}, "encoding": {"x": {"field": "lo", "type": "quantitative", "scale": {"domain": [-0.4, 0.4], "range": [0, 561], "nice": false, "zero": false}, "axis": {"orient": "bottom", "values": [-0.4, -0.3, -0.2, -0.1, 0, 0.1, 0.2, 0.3, 0.4], "format": ".1f", "labelExpr": "replace(datum.label, '\u2212', '-')", "title": "Partial Correlation", "titleY": 113}}, "x2": {"field": "hi"}}},
   {"mark": {"type": "tick", "color": "#000", "size": 24, "thickness": 3.5}, "encoding": {"x": {"field": "lo", "type": "quantitative", "scale": {"domain": [-0.4, 0.4], "range": [0, 561], "nice": false, "zero": false}, "axis": {"orient": "bottom", "values": [-0.4, -0.3, -0.2, -0.1, 0, 0.1, 0.2, 0.3, 0.4], "format": ".1f", "labelExpr": "replace(datum.label, '\u2212', '-')", "title": "Partial Correlation", "titleY": 113}}}},
   {"mark": {"type": "tick", "color": "#000", "size": 24, "thickness": 3.5}, "encoding": {"x": {"field": "hi", "type": "quantitative", "scale": {"domain": [-0.4, 0.4], "range": [0, 561], "nice": false, "zero": false}, "axis": {"orient": "bottom", "values": [-0.4, -0.3, -0.2, -0.1, 0, 0.1, 0.2, 0.3, 0.4], "format": ".1f", "labelExpr": "replace(datum.label, '\u2212', '-')", "title": "Partial Correlation", "titleY": 113}}}},
   {"mark": {"type": "point", "filled": true, "color": "#000", "opacity": 1, "size": 560}, "encoding": {"x": {"field": "r", "type": "quantitative", "scale": {"domain": [-0.4, 0.4], "range": [0, 561], "nice": false, "zero": false}, "axis": {"orient": "bottom", "values": [-0.4, -0.3, -0.2, -0.1, 0, 0.1, 0.2, 0.3, 0.4], "format": ".1f", "labelExpr": "replace(datum.label, '\u2212', '-')", "title": "Partial Correlation", "titleY": 113}}}}
  ]},
  {"layer": [
   {"mark": {"type": "text", "align": "right", "dx": 34}, "encoding": {"text": {"field": "rt"}, "x": {"datum": "Partial r", "type": "nominal", "scale": {"type": "point", "domain": ["Partial r", "95%CI", "p value"], "range": [494, 954], "padding": 0.414}, "axis": {"orient": "top", "title": null, "offset": 13.4, "domain": false}}}},
   {"mark": {"type": "text", "align": "center", "dx": -10}, "encoding": {"text": {"field": "ci"}, "x": {"datum": "95%CI", "type": "nominal", "scale": {"type": "point", "domain": ["Partial r", "95%CI", "p value"], "range": [494, 954], "padding": 0.414}, "axis": {"orient": "top", "title": null, "offset": 13.4, "domain": false}}}},
   {"mark": {"type": "text", "align": "left", "dx": -62}, "encoding": {"text": {"field": "p"}, "x": {"datum": "p value", "type": "nominal", "scale": {"type": "point", "domain": ["Partial r", "95%CI", "p value"], "range": [494, 954], "padding": 0.414}, "axis": {"orient": "top", "title": null, "offset": 13.4, "domain": false}}}}
  ]}
 ],
 "resolve": {"scale": {"x": "independent"}}},

{"width": 1306, "height": 551, "data": {"name": "all"}, "transform": [{"filter": {"field": "panel", "equal": "e"}}],
 "encoding": {"y": {"field": "label", "type": "nominal", "sort": null, "scale": {"type": "point", "domain": ["LnHOMA-IR","QUICKI","METS-IR","TyG","TyG-BMI","TyG-WC","TyG-WHtR","LnTyG-HDL","LnLAP","LnVAI"], "range": [41, 520], "padding": 0}, "axis": {"title": "e' versus", "labelPadding": 32, "offset": -26, "titleX": -221, "titleY": -12.4}}},
 "layer": [
  {"layer": [
   {"transform": [{"aggregate": [{"op": "count", "as": "n"}]}], "mark": {"type": "rule", "color": "#000", "strokeWidth": 4, "yOffset": -34, "y2Offset": 31}, "encoding": {"x": {"datum": 0, "type": "quantitative"}, "y": {"datum": "LnHOMA-IR", "type": "nominal"}, "y2": {"datum": "LnVAI"}}},
   {"mark": {"type": "rule", "color": "#000", "strokeWidth": 3.5}, "encoding": {"x": {"field": "lo", "type": "quantitative", "scale": {"domain": [-0.4, 0.4], "range": [26, 587], "nice": false, "zero": false}, "axis": {"orient": "bottom", "values": [-0.4, -0.3, -0.2, -0.1, 0, 0.1, 0.2, 0.3, 0.4], "format": ".1f", "labelExpr": "replace(datum.label, '\u2212', '-')", "title": "Partial Correlation", "titleY": 113}}, "x2": {"field": "hi"}}},
   {"mark": {"type": "tick", "color": "#000", "size": 24, "thickness": 3.5}, "encoding": {"x": {"field": "lo", "type": "quantitative", "scale": {"domain": [-0.4, 0.4], "range": [26, 587], "nice": false, "zero": false}, "axis": {"orient": "bottom", "values": [-0.4, -0.3, -0.2, -0.1, 0, 0.1, 0.2, 0.3, 0.4], "format": ".1f", "labelExpr": "replace(datum.label, '\u2212', '-')", "title": "Partial Correlation", "titleY": 113}}}},
   {"mark": {"type": "tick", "color": "#000", "size": 24, "thickness": 3.5}, "encoding": {"x": {"field": "hi", "type": "quantitative", "scale": {"domain": [-0.4, 0.4], "range": [26, 587], "nice": false, "zero": false}, "axis": {"orient": "bottom", "values": [-0.4, -0.3, -0.2, -0.1, 0, 0.1, 0.2, 0.3, 0.4], "format": ".1f", "labelExpr": "replace(datum.label, '\u2212', '-')", "title": "Partial Correlation", "titleY": 113}}}},
   {"mark": {"type": "point", "filled": true, "color": "#000", "opacity": 1, "size": 560}, "encoding": {"x": {"field": "r", "type": "quantitative", "scale": {"domain": [-0.4, 0.4], "range": [26, 587], "nice": false, "zero": false}, "axis": {"orient": "bottom", "values": [-0.4, -0.3, -0.2, -0.1, 0, 0.1, 0.2, 0.3, 0.4], "format": ".1f", "labelExpr": "replace(datum.label, '\u2212', '-')", "title": "Partial Correlation", "titleY": 113}}}}
  ]},
  {"layer": [
   {"mark": {"type": "text", "align": "right", "dx": 33}, "encoding": {"text": {"field": "rt"}, "x": {"datum": "Partial r", "type": "nominal", "scale": {"type": "point", "domain": ["Partial r", "95%CI", "p value"], "range": [536, 996], "padding": 0.414}, "axis": {"orient": "top", "title": null, "offset": 8.4, "domain": false}}}},
   {"mark": {"type": "text", "align": "center", "dx": -9}, "encoding": {"text": {"field": "ci"}, "x": {"datum": "95%CI", "type": "nominal", "scale": {"type": "point", "domain": ["Partial r", "95%CI", "p value"], "range": [536, 996], "padding": 0.414}, "axis": {"orient": "top", "title": null, "offset": 8.4, "domain": false}}}},
   {"mark": {"type": "text", "align": "left", "dx": -62}, "encoding": {"text": {"field": "p"}, "x": {"datum": "p value", "type": "nominal", "scale": {"type": "point", "domain": ["Partial r", "95%CI", "p value"], "range": [536, 996], "padding": 0.414}, "axis": {"orient": "top", "title": null, "offset": 8.4, "domain": false}}}}
  ]}
 ],
 "resolve": {"scale": {"x": "independent"}}},

{"width": 1344, "height": 543, "data": {"name": "all"}, "transform": [{"filter": {"field": "panel", "equal": "PWV"}}],
 "encoding": {"y": {"field": "label", "type": "nominal", "sort": null, "scale": {"type": "point", "domain": ["LnHOMA-IR","QUICKI","METS-IR","TyG","TyG-BMI","TyG-WC","TyG-WHtR","LnTyG-HDL","LnLAP","LnVAI"], "range": [43, 512], "padding": 0}, "axis": {"title": "PWV versus", "labelPadding": -21, "offset": -18, "titleX": -216, "titleY": -7.4}}},
 "layer": [
  {"layer": [
   {"transform": [{"aggregate": [{"op": "count", "as": "n"}]}], "mark": {"type": "rule", "color": "#000", "strokeWidth": 4, "yOffset": -36, "y2Offset": 31}, "encoding": {"x": {"datum": 0, "type": "quantitative"}, "y": {"datum": "LnHOMA-IR", "type": "nominal"}, "y2": {"datum": "LnVAI"}}},
   {"mark": {"type": "rule", "color": "#000", "strokeWidth": 3.5}, "encoding": {"x": {"field": "lo", "type": "quantitative", "scale": {"domain": [-0.3, 0.4], "range": [18, 564], "nice": false, "zero": false}, "axis": {"orient": "bottom", "values": [-0.3, -0.2, -0.1, 0, 0.1, 0.2, 0.3, 0.4], "format": ".1f", "labelExpr": "replace(datum.label, '\u2212', '-')", "title": "Partial Correlation", "titleY": 113}}, "x2": {"field": "hi"}}},
   {"mark": {"type": "tick", "color": "#000", "size": 24, "thickness": 3.5}, "encoding": {"x": {"field": "lo", "type": "quantitative", "scale": {"domain": [-0.3, 0.4], "range": [18, 564], "nice": false, "zero": false}, "axis": {"orient": "bottom", "values": [-0.3, -0.2, -0.1, 0, 0.1, 0.2, 0.3, 0.4], "format": ".1f", "labelExpr": "replace(datum.label, '\u2212', '-')", "title": "Partial Correlation", "titleY": 113}}}},
   {"mark": {"type": "tick", "color": "#000", "size": 24, "thickness": 3.5}, "encoding": {"x": {"field": "hi", "type": "quantitative", "scale": {"domain": [-0.3, 0.4], "range": [18, 564], "nice": false, "zero": false}, "axis": {"orient": "bottom", "values": [-0.3, -0.2, -0.1, 0, 0.1, 0.2, 0.3, 0.4], "format": ".1f", "labelExpr": "replace(datum.label, '\u2212', '-')", "title": "Partial Correlation", "titleY": 113}}}},
   {"mark": {"type": "point", "filled": true, "color": "#000", "opacity": 1, "size": 560}, "encoding": {"x": {"field": "r", "type": "quantitative", "scale": {"domain": [-0.3, 0.4], "range": [18, 564], "nice": false, "zero": false}, "axis": {"orient": "bottom", "values": [-0.3, -0.2, -0.1, 0, 0.1, 0.2, 0.3, 0.4], "format": ".1f", "labelExpr": "replace(datum.label, '\u2212', '-')", "title": "Partial Correlation", "titleY": 113}}}}
  ]},
  {"layer": [
   {"mark": {"type": "text", "align": "right", "dx": 31}, "encoding": {"text": {"field": "rt"}, "x": {"datum": "Partial r", "type": "nominal", "scale": {"type": "point", "domain": ["Partial r", "95%CI", "p value"], "range": [515, 961], "padding": 0.414}, "axis": {"orient": "top", "title": null, "offset": 3.4, "domain": false}}}},
   {"mark": {"type": "text", "align": "center", "dx": -10}, "encoding": {"text": {"field": "ci"}, "x": {"datum": "95%CI", "type": "nominal", "scale": {"type": "point", "domain": ["Partial r", "95%CI", "p value"], "range": [515, 961], "padding": 0.414}, "axis": {"orient": "top", "title": null, "offset": 3.4, "domain": false}}}},
   {"mark": {"type": "text", "align": "left", "dx": -63}, "encoding": {"text": {"field": "p"}, "x": {"datum": "p value", "type": "nominal", "scale": {"type": "point", "domain": ["Partial r", "95%CI", "p value"], "range": [515, 961], "padding": 0.414}, "axis": {"orient": "top", "title": null, "offset": 3.4, "domain": false}}}}
  ]}
 ],
 "resolve": {"scale": {"x": "independent"}}},

{"width": 1030, "height": 563, "data": {"name": "all"}, "transform": [{"filter": {"field": "panel", "equal": "GFR"}}],
 "encoding": {"y": {"field": "label", "type": "nominal", "sort": null, "scale": {"type": "point", "domain": ["LnHOMA-IR","QUICKI","METS-IR","TyG","TyG-BMI","TyG-WC","TyG-WHtR","LnTyG-HDL","LnLAP","LnVAI"], "range": [50, 529], "padding": 0}, "axis": {"title": "GFR versus", "labelPadding": -41, "offset": -3, "titleX": -241, "titleY": -5.4}}},
 "layer": [
  {"layer": [
   {"transform": [{"aggregate": [{"op": "count", "as": "n"}]}], "mark": {"type": "rule", "color": "#000", "strokeWidth": 4, "yOffset": -38, "y2Offset": 34}, "encoding": {"x": {"datum": 0, "type": "quantitative"}, "y": {"datum": "LnHOMA-IR", "type": "nominal"}, "y2": {"datum": "LnVAI"}}},
   {"mark": {"type": "rule", "color": "#000", "strokeWidth": 3.5}, "encoding": {"x": {"field": "lo", "type": "quantitative", "scale": {"domain": [-0.4, 0.4], "range": [3, 553], "nice": false, "zero": false}, "axis": {"orient": "bottom", "values": [-0.4, -0.3, -0.2, -0.1, 0, 0.1, 0.2, 0.3, 0.4], "format": ".1f", "labelExpr": "replace(datum.label, '\u2212', '-')", "title": "Partial Correlation", "titleY": 113}}, "x2": {"field": "hi"}}},
   {"mark": {"type": "tick", "color": "#000", "size": 24, "thickness": 3.5}, "encoding": {"x": {"field": "lo", "type": "quantitative", "scale": {"domain": [-0.4, 0.4], "range": [3, 553], "nice": false, "zero": false}, "axis": {"orient": "bottom", "values": [-0.4, -0.3, -0.2, -0.1, 0, 0.1, 0.2, 0.3, 0.4], "format": ".1f", "labelExpr": "replace(datum.label, '\u2212', '-')", "title": "Partial Correlation", "titleY": 113}}}},
   {"mark": {"type": "tick", "color": "#000", "size": 24, "thickness": 3.5}, "encoding": {"x": {"field": "hi", "type": "quantitative", "scale": {"domain": [-0.4, 0.4], "range": [3, 553], "nice": false, "zero": false}, "axis": {"orient": "bottom", "values": [-0.4, -0.3, -0.2, -0.1, 0, 0.1, 0.2, 0.3, 0.4], "format": ".1f", "labelExpr": "replace(datum.label, '\u2212', '-')", "title": "Partial Correlation", "titleY": 113}}}},
   {"mark": {"type": "point", "filled": true, "color": "#000", "opacity": 1, "size": 560}, "encoding": {"x": {"field": "r", "type": "quantitative", "scale": {"domain": [-0.4, 0.4], "range": [3, 553], "nice": false, "zero": false}, "axis": {"orient": "bottom", "values": [-0.4, -0.3, -0.2, -0.1, 0, 0.1, 0.2, 0.3, 0.4], "format": ".1f", "labelExpr": "replace(datum.label, '\u2212', '-')", "title": "Partial Correlation", "titleY": 113}}}}
  ]},
  {"layer": [
   {"mark": {"type": "text", "align": "right", "dx": 33}, "encoding": {"text": {"field": "rt"}, "x": {"datum": "Partial r", "type": "nominal", "scale": {"type": "point", "domain": ["Partial r", "95%CI", "p value"], "range": [497, 961], "padding": 0.414}, "axis": {"orient": "top", "title": null, "offset": 1.4, "domain": true, "domainColor": "#222"}}}},
   {"mark": {"type": "text", "align": "center", "dx": -10}, "encoding": {"text": {"field": "ci"}, "x": {"datum": "95%CI", "type": "nominal", "scale": {"type": "point", "domain": ["Partial r", "95%CI", "p value"], "range": [497, 961], "padding": 0.414}, "axis": {"orient": "top", "title": null, "offset": 1.4, "domain": true, "domainColor": "#222"}}}},
   {"mark": {"type": "text", "align": "left", "dx": -59}, "encoding": {"text": {"field": "p"}, "x": {"datum": "p value", "type": "nominal", "scale": {"type": "point", "domain": ["Partial r", "95%CI", "p value"], "range": [497, 961], "padding": 0.414}, "axis": {"orient": "top", "title": null, "offset": 1.4, "domain": true, "domainColor": "#222"}}}}
  ]}
 ],
 "resolve": {"scale": {"x": "independent"}}}
],
"config": {
 "view": {"stroke": null},
 "font": "Liberation Sans",
 "axis": {"labelFont": "Liberation Sans", "titleFont": "Liberation Sans", "labelFontWeight": "bold", "titleFontWeight": "bold", "labelColor": "#000", "titleColor": "#000", "domainColor": "#000", "tickColor": "#000", "grid": false, "labelFlush": false, "labelOverlap": false, "labelLimit": 0, "labelBound": false},
 "axisBottom": {"domainWidth": 5, "tickSize": 18, "tickWidth": 4, "labelFontSize": 32, "labelPadding": 44.5, "labelBaseline": "alphabetic", "titleFontSize": 37, "titleBaseline": "alphabetic"},
 "axisTop": {"ticks": false, "labelFontSize": 38, "labelPadding": 4, "labelBaseline": "alphabetic", "labelAngle": 0, "domainWidth": 2.5},
 "axisLeft": {"domain": false, "ticks": false, "labelFontSize": 28, "labelBaseline": "middle", "titleFontSize": 38, "titleAngle": 0, "titleAlign": "left", "titleBaseline": "alphabetic"},
 "text": {"font": "Liberation Sans", "fontWeight": "bold", "fontSize": 28, "baseline": "middle", "color": "#000"}
}
}
